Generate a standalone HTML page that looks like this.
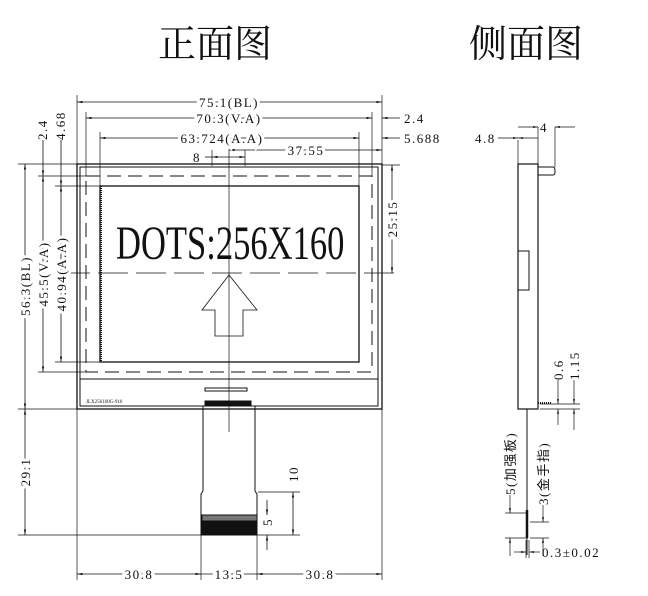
<!DOCTYPE html>
<html><head><meta charset="utf-8"><style>
body{margin:0;background:#fff}
svg{display:block}
text{font-family:"Liberation Serif","Noto Serif CJK SC",serif;fill:#111}
.t text{letter-spacing:1.5px}
</style></head><body>
<svg width="648" height="596" viewBox="0 0 648 596" xmlns="http://www.w3.org/2000/svg">
<defs><marker id="a" viewBox="0 0 10 10" refX="10" refY="5" markerWidth="7" markerHeight="7" orient="auto-start-reverse"><path d="M0,3L10,5L0,7z" fill="#111"/></marker></defs>
<text x="215" y="57" font-size="38" text-anchor="middle" style="font-family:'Noto Serif CJK SC',serif">正面图</text>
<text x="526" y="57" font-size="38" text-anchor="middle" style="font-family:'Noto Serif CJK SC',serif">侧面图</text>
<g stroke="#111" fill="none" stroke-width="1">
<rect x="77" y="164" width="305" height="245" stroke-width="1.3"/>
<rect x="80" y="167" width="298" height="239"/>
<line x1="80" y1="379" x2="378" y2="379"/>
<rect x="86" y="176" width="286" height="196" stroke-dasharray="14,7"/>
<rect x="100" y="186" width="259" height="176" stroke-width="1.3"/>
<line x1="101" y1="186" x2="101" y2="362" stroke-width="2" stroke-dasharray="1,1"/>
<line x1="229" y1="140" x2="229" y2="432" stroke-width="0.7"/>
<line x1="60" y1="273" x2="400" y2="273" stroke-dasharray="30,8" stroke-width="0.7"/>
<path d="M229,275 L257,310 L243,310 L243,336 L215,336 L215,310 L202,310 Z" stroke-width="0.8"/>
<rect x="205" y="388" width="42" height="3"/>
<rect x="205" y="401" width="46" height="5" fill="#111"/>
<path d="M203,406 V491 L201,494 V535 H257 V494 L255,491 V406"/>
<rect x="202" y="515" width="55" height="6" fill="#777"/>
<rect x="202" y="521" width="55" height="14" fill="#111"/>
<g stroke-width="0.7">
<line x1="77" y1="95" x2="77" y2="164"/><line x1="382" y1="95" x2="382" y2="164"/>
<line x1="86" y1="112" x2="86" y2="176"/><line x1="372" y1="112" x2="372" y2="176"/>
<line x1="100" y1="132" x2="100" y2="186"/><line x1="359" y1="132" x2="359" y2="186"/>
<line x1="18" y1="164" x2="77" y2="164"/><line x1="18" y1="409" x2="77" y2="409"/>
<line x1="38" y1="176" x2="86" y2="176"/><line x1="38" y1="372" x2="86" y2="372"/>
<line x1="55" y1="186" x2="100" y2="186"/><line x1="55" y1="362" x2="100" y2="362"/>
<line x1="18" y1="535" x2="300" y2="535"/>
<line x1="77" y1="409" x2="77" y2="580"/><line x1="382" y1="409" x2="382" y2="580"/>
<line x1="201" y1="535" x2="201" y2="580"/><line x1="257" y1="535" x2="257" y2="580"/>
<line x1="382" y1="165" x2="400" y2="165"/>
<line x1="258" y1="492" x2="300" y2="492"/>
<line x1="212" y1="150" x2="212" y2="166"/><line x1="245" y1="150" x2="245" y2="166"/>
</g>
<g stroke-width="0.8">
<line x1="77" y1="102" x2="382" y2="102" marker-start="url(#a)" marker-end="url(#a)"/>
<line x1="86" y1="118" x2="372" y2="118" marker-start="url(#a)" marker-end="url(#a)"/>
<line x1="100" y1="138" x2="359" y2="138" marker-start="url(#a)" marker-end="url(#a)"/>
<line x1="229" y1="150" x2="382" y2="150" marker-start="url(#a)" marker-end="url(#a)"/>
<line x1="212" y1="157" x2="245" y2="157" marker-start="url(#a)" marker-end="url(#a)"/>
<line x1="205" y1="157" x2="212" y2="157"/>
<line x1="382" y1="118" x2="400" y2="118" marker-start="url(#a)"/>
<line x1="382" y1="138" x2="400" y2="138" marker-start="url(#a)"/>
<line x1="25" y1="164" x2="25" y2="409" marker-start="url(#a)" marker-end="url(#a)"/>
<line x1="43" y1="176" x2="43" y2="372" marker-start="url(#a)" marker-end="url(#a)"/>
<line x1="61" y1="186" x2="61" y2="362" marker-start="url(#a)" marker-end="url(#a)"/>
<line x1="43" y1="140" x2="43" y2="176" marker-end="url(#a)"/>
<line x1="61" y1="140" x2="61" y2="186" marker-end="url(#a)"/>
<line x1="25" y1="409" x2="25" y2="535" marker-start="url(#a)" marker-end="url(#a)"/>
<line x1="392" y1="165" x2="392" y2="273" marker-start="url(#a)" marker-end="url(#a)"/>
<line x1="77" y1="574" x2="201" y2="574" marker-start="url(#a)" marker-end="url(#a)"/>
<line x1="201" y1="574" x2="257" y2="574"/>
<line x1="257" y1="574" x2="382" y2="574" marker-start="url(#a)" marker-end="url(#a)"/>
<line x1="293" y1="492" x2="293" y2="535" marker-start="url(#a)" marker-end="url(#a)"/>
<line x1="267" y1="500" x2="267" y2="515" marker-end="url(#a)"/>
<line x1="267" y1="535" x2="267" y2="550" marker-start="url(#a)"/>
</g>
<rect x="518" y="164" width="20" height="245" stroke-width="1.2"/>
<path d="M538,167 H553 Q555,167 555,171 V172 Q555,175 553,175 H538"/>
<rect x="518" y="251" width="11" height="39"/>
<line x1="527" y1="409" x2="527" y2="555" stroke-width="1"/>
<line x1="527" y1="510" x2="527" y2="538" stroke-width="2.5"/>
<line x1="538" y1="403" x2="551" y2="403" stroke-width="2" stroke-dasharray="1,1"/>
<g stroke-width="0.7">
<line x1="518" y1="140" x2="518" y2="164"/><line x1="538" y1="127" x2="538" y2="164"/><line x1="555" y1="127" x2="555" y2="167"/>
<line x1="518" y1="138" x2="538" y2="138" marker-start="url(#a)"/>
<line x1="498" y1="138" x2="518" y2="138" marker-end="url(#a)"/>
<line x1="518" y1="127" x2="538" y2="127" marker-end="url(#a)"/>
<line x1="555" y1="127" x2="575" y2="127" marker-start="url(#a)"/>
<line x1="540" y1="404" x2="580" y2="404"/><line x1="540" y1="409" x2="580" y2="409"/>
<line x1="558" y1="380" x2="558" y2="404" marker-end="url(#a)"/>
<line x1="558" y1="409" x2="558" y2="425" marker-start="url(#a)"/>
<line x1="574" y1="380" x2="574" y2="404" marker-end="url(#a)"/>
<line x1="574" y1="409" x2="574" y2="430" marker-start="url(#a)"/>
<line x1="505" y1="513" x2="527" y2="513"/><line x1="505" y1="538" x2="527" y2="538"/>
<line x1="530" y1="522" x2="549" y2="522"/><line x1="530" y1="538" x2="549" y2="538"/>
<line x1="510" y1="495" x2="510" y2="513" marker-end="url(#a)"/>
<line x1="510" y1="538" x2="510" y2="556" marker-start="url(#a)"/>
<line x1="543" y1="505" x2="543" y2="522" marker-end="url(#a)"/>
<line x1="543" y1="538" x2="543" y2="556" marker-start="url(#a)"/>
<line x1="526" y1="540" x2="526" y2="558"/><line x1="529" y1="540" x2="529" y2="558"/>
<line x1="514" y1="552" x2="526" y2="552" marker-end="url(#a)"/>
<line x1="529" y1="552" x2="540" y2="552" marker-start="url(#a)"/>
</g>
</g>
<text transform="translate(116,259) scale(0.72,1)" x="0" y="0" font-size="48" text-anchor="start">DOTS:256X160</text>
<g class="t" font-size="13">
<text x="229" y="107" text-anchor="middle" style="paint-order:stroke" stroke="#fff" stroke-width="6">75.1(BL)</text>
<text x="229" y="123" text-anchor="middle" style="paint-order:stroke" stroke="#fff" stroke-width="6">70.3(V.A)</text>
<text x="222" y="143" text-anchor="middle" style="paint-order:stroke" stroke="#fff" stroke-width="6">63.724(A.A)</text>
<text x="306" y="155" text-anchor="middle" style="paint-order:stroke" stroke="#fff" stroke-width="6">37.55</text>
<text x="197" y="162" text-anchor="middle">8</text>
<text x="404" y="123">2.4</text>
<text x="404" y="143">5.688</text>
<text x="86" y="403" font-size="5" style="letter-spacing:0">JLX256160G-910</text>
<text transform="translate(47,140) rotate(-90)">2.4</text>
<text transform="translate(65,140) rotate(-90)">4.68</text>
<text transform="translate(30,286) rotate(-90)" text-anchor="middle" style="paint-order:stroke" stroke="#fff" stroke-width="6">56.3(BL)</text>
<text transform="translate(48,274) rotate(-90)" text-anchor="middle" style="paint-order:stroke" stroke="#fff" stroke-width="6">45.5(V.A)</text>
<text transform="translate(66,274) rotate(-90)" text-anchor="middle" style="paint-order:stroke" stroke="#fff" stroke-width="6">40.94(A.A)</text>
<text transform="translate(30,472) rotate(-90)" text-anchor="middle" style="paint-order:stroke" stroke="#fff" stroke-width="6">29.1</text>
<text transform="translate(397,219) rotate(-90)" text-anchor="middle" style="paint-order:stroke" stroke="#fff" stroke-width="6">25.15</text>
<text transform="translate(298,474) rotate(-90)" text-anchor="middle">10</text>
<text transform="translate(272,522) rotate(-90)" text-anchor="middle">5</text>
<text x="139" y="579" text-anchor="middle" style="paint-order:stroke" stroke="#fff" stroke-width="6">30.8</text>
<text x="229" y="579" text-anchor="middle" style="paint-order:stroke" stroke="#fff" stroke-width="6">13.5</text>
<text x="320" y="579" text-anchor="middle" style="paint-order:stroke" stroke="#fff" stroke-width="6">30.8</text>
<text x="475" y="143">4.8</text>
<text x="540" y="132">4</text>
<text transform="translate(563,380) rotate(-90)">0.6</text>
<text transform="translate(579,380) rotate(-90)">1.15</text>
<text transform="translate(515,495) rotate(-90)" style="font-family:'Liberation Serif','Noto Sans CJK SC',serif">5(加强板)</text>
<text transform="translate(548,505) rotate(-90)" style="font-family:'Liberation Serif','Noto Sans CJK SC',serif">3(金手指)</text>
<text x="542" y="557">0.3±0.02</text>
</g>
</svg>
</body></html>
